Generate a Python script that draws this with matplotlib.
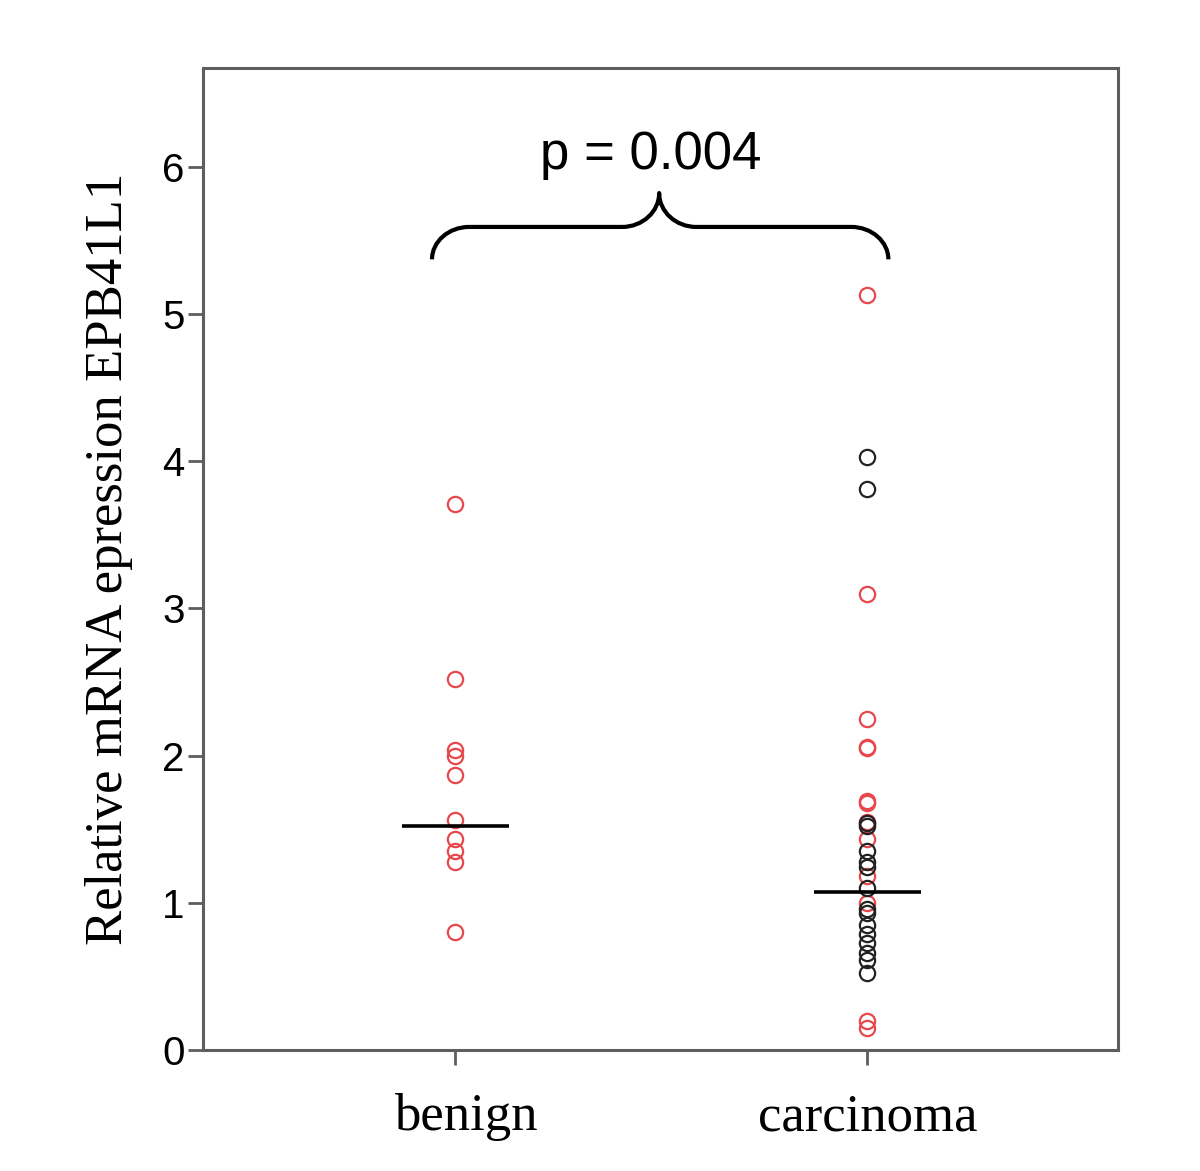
import matplotlib.pyplot as plt
import matplotlib.transforms as mtransforms
from matplotlib.path import Path
from matplotlib.patches import PathPatch

# ---- data ----
groups = ["benign", "carcinoma"]
group_x = [1, 2]

benign_red = [3.71, 2.52, 2.04, 2.00, 1.87, 1.56, 1.43, 1.35, 1.28, 0.80]
carc_red = [5.13, 3.10, 2.25, 2.06, 2.05, 1.69, 1.68, 1.55, 1.43, 1.18, 1.00, 0.20, 0.15]
carc_black = [4.03, 3.81, 1.54, 1.52, 1.35, 1.28, 1.24, 1.10, 0.96, 0.93,
              0.85, 0.79, 0.73, 0.66, 0.61, 0.52]
center_lines = [1.52, 1.07]

p_text = "p = 0.004"

RED = "#e8474c"
BLACK = "#222222"
GRAY = "#5e5e5e"

fig = plt.figure(figsize=(12, 11.71), dpi=100)
ax = fig.add_axes([0.169, 0.1033, 0.763, 0.8387])

mk = dict(marker="o", ms=11, mfc="none", mew=1.6, ls="none")
ax.plot([group_x[0]] * len(benign_red), benign_red, mec=RED, **mk)
ax.plot([group_x[1]] * len(carc_red), carc_red, mec=RED, **mk)
ax.plot([group_x[1]] * len(carc_black), carc_black, mec=BLACK, **mk)

for gx, c in zip(group_x, center_lines):
    ax.plot([gx - 0.13, gx + 0.13], [c, c], color="black", lw=2.6, solid_capstyle="butt")

# curly brace between the groups
x0, x1 = group_x[0] - 0.056, group_x[1] + 0.051
xm = 1.495
y_end, y_h, y_tip = 5.37, 5.59, 5.82
r = 0.09
k = 0.55
verts = [
    (x0, y_end), (x0, y_end + k * (y_h - y_end)), (x0 + (1 - k) * r, y_h), (x0 + r, y_h),
    (xm - r, y_h),
    (xm - (1 - k) * r, y_h), (xm, y_h + (1 - k) * (y_tip - y_h)), (xm, y_tip),
    (xm, y_h + (1 - k) * (y_tip - y_h)), (xm + (1 - k) * r, y_h), (xm + r, y_h),
    (x1 - r, y_h),
    (x1 - (1 - k) * r, y_h), (x1, y_end + k * (y_h - y_end)), (x1, y_end),
]
codes = [Path.MOVETO, Path.CURVE4, Path.CURVE4, Path.CURVE4,
         Path.LINETO,
         Path.CURVE4, Path.CURVE4, Path.CURVE4,
         Path.CURVE4, Path.CURVE4, Path.CURVE4,
         Path.LINETO,
         Path.CURVE4, Path.CURVE4, Path.CURVE4]
ax.add_patch(PathPatch(Path(verts, codes), fc="none", ec="black", lw=3,
                       capstyle="butt", joinstyle="round"))
ax.text(1.475, 6.08, p_text, ha="center", va="center", fontsize=38,
        family="Liberation Sans")

ax.set_xlim(0.388, 2.609)
ax.set_ylim(0, 6.67)
ax.set_xticks(group_x)
ax.set_xticklabels(groups, family="Liberation Serif", fontsize=38)
ax.set_yticks(range(0, 7))
ax.set_yticklabels([str(i) for i in range(0, 7)], family="Liberation Sans",
                   fontsize=29, fontweight="medium")
ax.tick_params(axis="both", direction="out", length=11, width=2, color=GRAY)
ax.tick_params(axis="x", pad=20)
ax.tick_params(axis="y", pad=2)

# the benign label sits a little right of its tick
lbl = ax.get_xticklabels()[0]
lbl.set_transform(lbl.get_transform() + mtransforms.ScaledTranslation(0.11, 0, fig.dpi_scale_trans))

for s in ax.spines.values():
    s.set_color(GRAY)
    s.set_linewidth(2.2)

ax.set_ylabel("Relative mRNA epression EPB41L1", family="Liberation Serif", fontsize=38)
ax.yaxis.set_label_coords(-0.076, 0.5)

fig.savefig("out.png", dpi=100, facecolor="white")
